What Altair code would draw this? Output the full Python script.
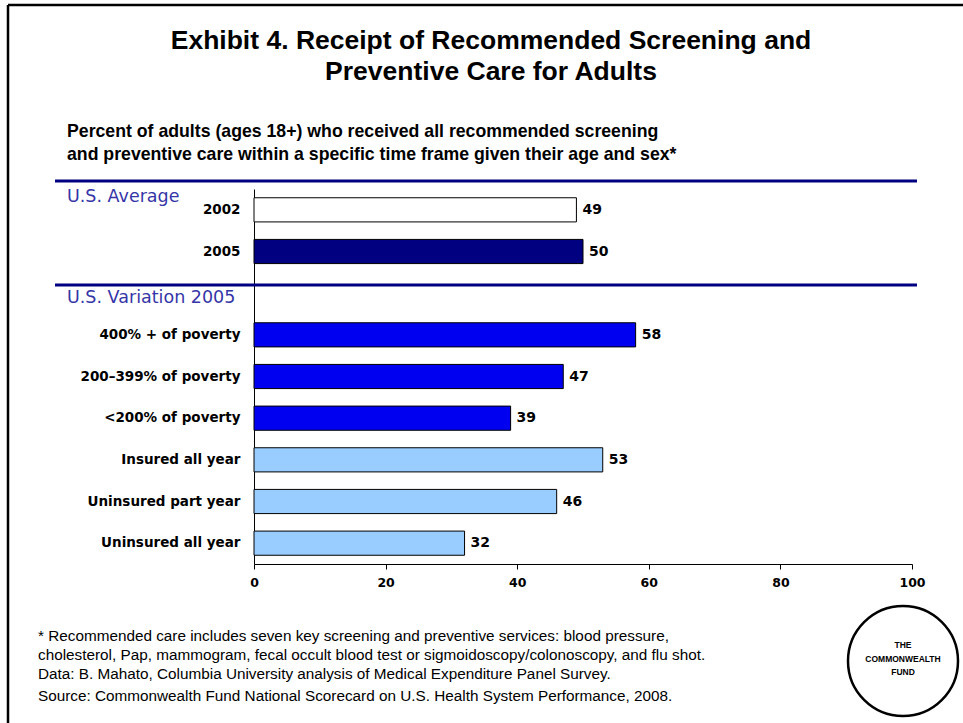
import altair as alt
import pandas as pd

# ---- data ----
categories = ["2002", "2005", " ", "400% + of poverty", "200–399% of poverty",
              "<200% of poverty", "Insured all year", "Uninsured part year",
              "Uninsured all year"]
bar_labels = ["2002", "2005", "400% + of poverty", "200–399% of poverty",
              "<200% of poverty", "Insured all year", "Uninsured part year",
              "Uninsured all year"]
bar_values = [49, 50, 58, 47, 39, 53, 46, 32]
bar_groups = ["y2002", "y2005", "poverty", "poverty", "poverty",
              "insurance", "insurance", "insurance"]
group_names = ["y2002", "y2005", "poverty", "insurance"]
group_colors = ["#FFFFFF", "#000080", "#0000F0", "#99CCFF"]
x_ticks = [0, 20, 40, 60, 80, 100]

title_lines = ["Exhibit 4. Receipt of Recommended Screening and",
               "Preventive Care for Adults"]
subtitle_lines = ["Percent of adults (ages 18+) who received all recommended screening",
                  "and preventive care within a specific time frame given their age and sex*"]
footnotes = ["* Recommended care includes seven key screening and preventive services: blood pressure,",
             "cholesterol, Pap, mammogram, fecal occult blood test or sigmoidoscopy/colonoscopy, and flu shot.",
             "Data: B. Mahato, Columbia University analysis of Medical Expenditure Panel Survey.",
             "Source: Commonwealth Fund National Scorecard on U.S. Health System Performance, 2008."]
logo_lines = ["THE", "COMMONWEALTH", "FUND"]

df = pd.DataFrame({"cat": bar_labels, "value": bar_values, "group": bar_groups})

FONT = "Liberation Sans"
WIDE = "DejaVu Sans"
OX, OY = 254, 189  # plot origin in page pixels
W, H = 658, 375

y_enc = alt.Y("cat:N", sort=categories,
              scale=alt.Scale(domain=categories, paddingInner=0.42, paddingOuter=0.21),
              axis=alt.Axis(title=None, ticks=False, labelFont=WIDE, labelFontWeight="bold",
                            labelFontSize=13.5, labelColor="black", labelPadding=14,
                            domainColor="black", domainWidth=1))
x_enc = alt.X("value:Q", scale=alt.Scale(domain=[0, 100], nice=False),
              axis=alt.Axis(title=None, values=x_ticks, grid=False, tickSize=5,
                            tickColor="black", domainColor="black", labelFont=WIDE,
                            labelFontWeight="bold", labelFontSize=12.5, labelColor="black",
                            labelPadding=7, labelFlush=False))

bars = alt.Chart(df).mark_bar(stroke="black", strokeWidth=1).encode(
    x=x_enc, y=y_enc,
    color=alt.Color("group:N", scale=alt.Scale(domain=group_names, range=group_colors),
                    legend=None))

vals = alt.Chart(df).mark_text(align="left", dx=6, font=WIDE, fontWeight="bold",
                               fontSize=14, color="black").encode(
    x="value:Q", y=alt.Y("cat:N", sort=categories), text="value:Q")

one = alt.Data(values=[{"a": 1}])


def txt(s, x, y, size, weight="normal", align="left", color="black", font=FONT):
    return alt.Chart(one).mark_text(text=s, align=align, baseline="middle", font=font,
                                    fontSize=size, fontWeight=weight, color=color).encode(
        x=alt.value(x - OX), y=alt.value(y - OY))


def hline(x1, x2, y, color, width):
    return alt.Chart(one).mark_rule(color=color, strokeWidth=width).encode(
        x=alt.value(x1 - OX), x2=alt.value(x2 - OX), y=alt.value(y - OY))


def vline(x, y1, y2, color, width):
    return alt.Chart(one).mark_rule(color=color, strokeWidth=width).encode(
        x=alt.value(x - OX), y=alt.value(y1 - OY), y2=alt.value(y2 - OY))


deco = []
# frame
deco.append(hline(8, 963, 5, "black", 2.5))
deco.append(vline(8, 5, 723, "black", 2.5))
# title
deco.append(txt(title_lines[0], 491, 41, 26.5, "bold", "center"))
deco.append(txt(title_lines[1], 491, 72, 26.5, "bold", "center"))
# subtitle
deco.append(txt(subtitle_lines[0], 67, 132, 17.7, "bold"))
deco.append(txt(subtitle_lines[1], 67, 155, 17.7, "bold"))
# section rules and labels
deco.append(hline(55, 917, 181, "#000080", 3))
deco.append(hline(55, 917, 285, "#000080", 3))
deco.append(txt("U.S. Average", 67, 197, 17.5, "normal", "left", "#3535A8", WIDE))
deco.append(txt("U.S. Variation 2005", 67, 298, 17.5, "normal", "left", "#3535A8", WIDE))
# footnotes
for s, yy in zip(footnotes, [636, 655, 674, 696]):
    deco.append(txt(s, 38, yy, 15.3))
# logo
deco.append(alt.Chart(one).mark_point(shape="circle", filled=False, size=110 * 110,
                                       stroke="black", strokeWidth=2.5, opacity=1).encode(
    x=alt.value(903 - OX), y=alt.value(661 - OY)))
for s, yy in zip(logo_lines, [645, 659, 672]):
    deco.append(txt(s, 903, yy, 8.5, "bold", "center"))

chart = alt.layer(bars, vals, *deco).properties(
    width=W, height=H,
    autosize=alt.AutoSizeParams(type="none"),
    padding={"left": OX, "top": OY, "right": 963 - OX - W, "bottom": 723 - OY - H},
    background="white",
).configure_view(stroke=None)

chart.save("out.html", embed_options={"renderer": "svg", "actions": False})
